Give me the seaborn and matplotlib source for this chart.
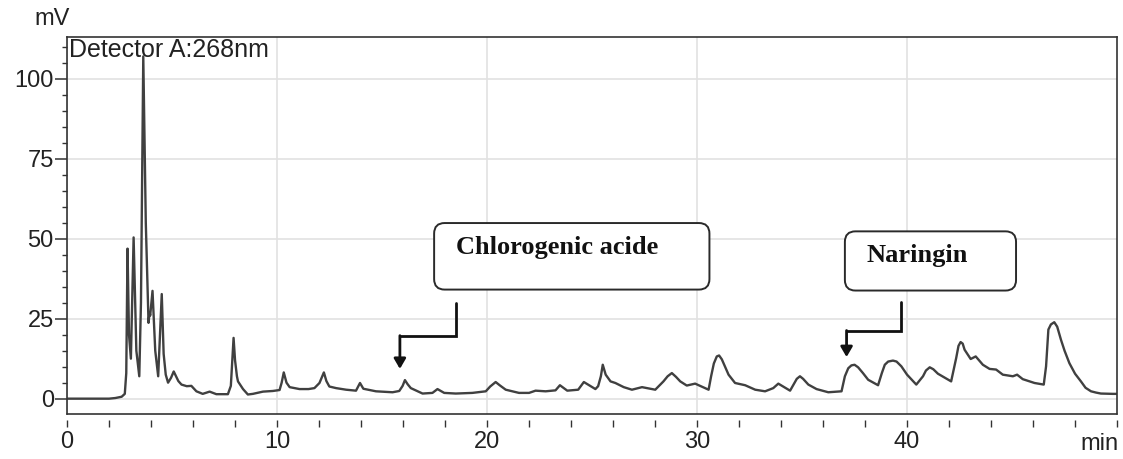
import matplotlib
matplotlib.use('Agg')
import matplotlib.pyplot as plt
import matplotlib.patches as mpatches
from matplotlib.ticker import MultipleLocator
import pandas as pd
import seaborn as sns

# chromatogram trace (retention time in min, signal in mV)
TIME_MIN = [
    0.0, 2.0, 2.3, 2.6, 2.75, 2.82, 2.88, 2.95, 3.04, 3.17, 3.3, 3.44, 3.52, 3.63, 3.75,
    3.88, 3.93, 3.96, 4.07, 4.2, 4.34, 4.51, 4.6, 4.7, 4.81, 4.95, 5.08, 5.3, 5.45, 5.7,
    5.92, 6.16, 6.46, 6.79, 7.11, 7.66, 7.8, 7.93, 8.0, 8.09, 8.14, 8.38, 8.61, 8.85, 9.33,
    9.8, 10.12, 10.22, 10.32, 10.45, 10.6, 11.07, 11.5, 11.78, 12.02, 12.12, 12.23, 12.35,
    12.49, 12.81, 13.29, 13.76, 13.95, 14.11, 14.71, 15.5, 15.82, 15.98, 16.09, 16.22,
    16.37, 16.93, 17.4, 17.64, 17.96, 18.51, 19.3, 19.94, 20.15, 20.41, 20.6, 20.89, 21.52,
    22.0, 22.31, 22.79, 23.26, 23.47, 23.82, 24.34, 24.61, 25.16, 25.29, 25.42, 25.51,
    25.65, 25.88, 26.11, 26.51, 26.9, 27.38, 28.01, 28.4, 28.6, 28.8, 29.0, 29.2, 29.51,
    29.91, 30.55, 30.67, 30.8, 30.94, 31.05, 31.18, 31.3, 31.5, 31.81, 32.29, 32.77, 33.24,
    33.63, 33.87, 34.43, 34.75, 34.9, 35.05, 35.3, 35.69, 36.25, 36.88, 37.04, 37.2, 37.35,
    37.5, 37.67, 37.9, 38.15, 38.62, 38.8, 38.94, 39.1, 39.33, 39.5, 39.73, 40.0, 40.44,
    40.76, 40.9, 41.08, 41.25, 41.47, 42.1, 42.34, 42.45, 42.55, 42.65, 42.74, 43.03, 43.27,
    43.61, 43.93, 44.24, 44.56, 45.04, 45.24, 45.51, 46.07, 46.51, 46.62, 46.73, 46.85,
    47.01, 47.15, 47.33, 47.5, 47.73, 48.0, 48.28, 48.5, 48.76, 49.0, 49.23, 49.79, 50.0,
]
SIGNAL_MV = [
    0.0, 0.0, 0.2, 0.6, 1.5, 8.0, 46.9, 20.0, 12.5, 50.4, 15.0, 7.0, 30.0, 107.0, 55.0,
    23.7, 27.0, 26.0, 33.7, 15.0, 7.0, 32.7, 14.0, 7.5, 5.0, 6.5, 8.5, 5.5, 4.4, 3.9,
    4.0, 2.3, 1.5, 2.2, 1.4, 1.4, 4.0, 19.0, 12.0, 7.0, 5.4, 3.0, 1.3, 1.5, 2.2,
    2.4, 2.7, 5.0, 8.2, 5.0, 3.6, 3.0, 3.0, 3.3, 4.9, 6.5, 8.2, 5.5,
    3.8, 3.3, 2.8, 2.5, 4.9, 3.1, 2.3, 2.0, 2.4, 4.0, 5.8, 4.5,
    3.3, 1.6, 1.8, 3.0, 1.8, 1.6, 1.8, 2.3, 3.8, 5.2, 4.2, 2.8, 1.8,
    1.8, 2.5, 2.3, 2.6, 4.2, 2.5, 2.8, 5.2, 3.0, 3.9, 7.0, 10.6,
    7.5, 5.4, 4.9, 3.6, 2.8, 3.6, 2.8, 5.4, 7.0, 8.0, 6.8, 5.4, 4.1,
    4.7, 2.8, 7.0, 11.0, 13.2, 13.5, 12.3, 10.5, 7.5, 4.9, 4.2, 2.8, 2.3,
    3.3, 4.7, 2.5, 6.2, 7.0, 6.2, 4.4, 3.0, 2.0, 2.3, 7.0, 9.5, 10.4,
    10.6, 9.8, 8.0, 5.9, 4.2, 8.0, 10.6, 11.6, 11.9, 11.6, 10.1, 7.5, 4.4,
    7.0, 8.8, 9.8, 9.2, 7.8, 5.4, 12.7, 16.5, 17.7, 17.2, 15.3, 12.4, 13.2,
    10.6, 9.3, 9.1, 7.5, 7.0, 7.5, 6.1, 4.9, 4.4, 10.1, 21.6, 23.2,
    23.9, 22.5, 18.4, 15.0, 11.1, 7.8, 5.4, 3.4, 2.3, 1.9, 1.6, 1.5, 1.5,
]

DETECTOR_LABEL = 'Detector A:268nm'
X_MAJOR = [0, 10, 20, 30, 40]
Y_MAJOR = [0, 25, 50, 75, 100]
X_LIM = (0, 50)
Y_LIM = (-4.8, 113)

# labelled peaks: name, box (x0, y0, x1, y1), text anchor, elbow arrow path
PEAK_NAMES = ['Chlorogenic acide', 'Naringin']
PEAK_BOXES = [(17.48, 34.1, 30.59, 54.9), (37.04, 33.8, 45.19, 52.3)]
PEAK_TEXT_XY = [(18.53, 45.3), (38.07, 42.7)]
PEAK_ARROWS = [
    [(18.54, 29.9), (18.54, 19.7), (15.85, 19.7), (15.85, 9.3)],
    [(39.73, 30.1), (39.73, 21.3), (37.12, 21.3), (37.12, 13.0)],
]

LINE_COLOR = '#404040'
AXIS_COLOR = '#333333'


def main():
    sns.set_style('white')
    plt.rcParams['font.family'] = ['Liberation Sans', 'DejaVu Sans']

    df = pd.DataFrame({'time': TIME_MIN, 'signal': SIGNAL_MV})

    fig = plt.figure(figsize=(11.23, 4.59), dpi=100)
    ax = fig.add_axes([0.0597, 0.098, 0.935, 0.821])

    sns.lineplot(data=df, x='time', y='signal', ax=ax, color=LINE_COLOR, linewidth=1.7,
                 sort=False, estimator=None)
    ax.lines[0].set_solid_joinstyle('round')

    ax.set_xlim(*X_LIM)
    ax.set_ylim(*Y_LIM)
    ax.set_xticks(X_MAJOR)
    ax.set_yticks(Y_MAJOR)
    ax.xaxis.set_minor_locator(MultipleLocator(2))
    ax.yaxis.set_minor_locator(MultipleLocator(5))
    ax.set_xlabel('')
    ax.set_ylabel('')

    ax.grid(True, which='major', color='#e2e2e2', linewidth=1.2)
    ax.set_axisbelow(True)

    for side in ['left', 'right', 'top', 'bottom']:
        ax.spines[side].set_color(AXIS_COLOR)
        ax.spines[side].set_linewidth(1.2)
    # detached x axis below the frame
    ax.spines['bottom'].set_position(('outward', 4))
    ax.spines['bottom'].set_visible(False)
    ax.axhline(Y_LIM[0], color=AXIS_COLOR, linewidth=1.2, clip_on=False, zorder=5)

    ax.tick_params(axis='y', which='major', direction='out', length=8.5, width=1.1,
                   color=AXIS_COLOR, pad=1, labelsize=17, labelcolor='#222222', left=True)
    ax.tick_params(axis='y', which='minor', direction='out', length=3.6, width=1.0,
                   color=AXIS_COLOR, left=True)
    ax.tick_params(axis='x', which='both', direction='out', length=5, width=1.0,
                   color=AXIS_COLOR, bottom=True)
    ax.tick_params(axis='x', which='major', pad=3, labelsize=17, labelcolor='#222222')

    ax.text(0.002, 0.998, DETECTOR_LABEL, transform=ax.transAxes, ha='left', va='top',
            fontsize=18, color='#222222')
    fig.text(52 / 1123, 1 - 19 / 459, 'mV', ha='center', va='center', fontsize=17,
             color='#222222')
    fig.text(1100 / 1123, 1 - 444 / 459, 'min', ha='center', va='center', fontsize=17,
             color='#222222')

    # x px per min vs mV px -> aspect so the rounded corners stay circular
    aspect = (1 / 3.2) / (1 / 21.05)
    for name, box, txy, path in zip(PEAK_NAMES, PEAK_BOXES, PEAK_TEXT_XY, PEAK_ARROWS):
        x0, y0, x1, y1 = box
        patch = mpatches.FancyBboxPatch((x0, y0), x1 - x0, y1 - y0,
                                        boxstyle='round,pad=0,rounding_size=0.5',
                                        mutation_aspect=aspect, facecolor='white',
                                        edgecolor='#2a2a2a', linewidth=1.4, zorder=6)
        ax.add_patch(patch)
        ax.text(txy[0], txy[1], name, ha='left', va='baseline', fontsize=19,
                fontweight='bold', family=['Liberation Serif', 'DejaVu Serif'],
                color='#111111', zorder=7)
        xs = [p[0] for p in path[:-1]]
        ys = [p[1] for p in path[:-1]]
        ax.plot(xs, ys, color='#111111', linewidth=2, solid_joinstyle='miter', zorder=7)
        ax.annotate('', xy=path[-1], xytext=path[-2],
                    arrowprops=dict(arrowstyle='-|>,head_length=0.6,head_width=0.35',
                                    color='#111111', lw=2, shrinkA=0, shrinkB=0),
                    zorder=7)

    fig.savefig('out.png', dpi=100)


if __name__ == '__main__':
    main()
